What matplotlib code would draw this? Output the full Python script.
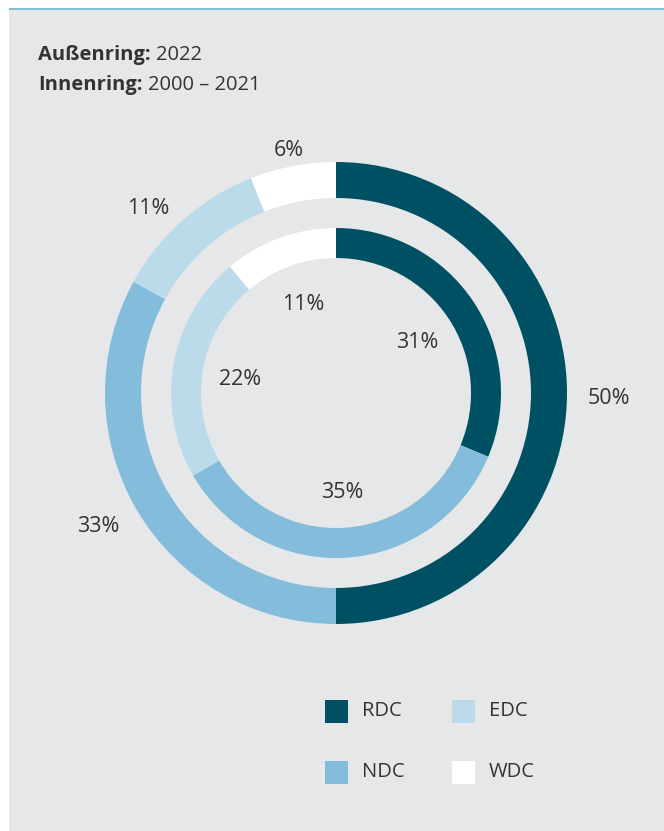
import numpy as np
import matplotlib

matplotlib.use("Agg")

import matplotlib.pyplot as plt  # noqa: E402
from matplotlib.patches import Rectangle  # noqa: E402

plt.rcParams["font.family"] = ["Open Sans", "DejaVu Sans"]

categories = ["RDC", "NDC", "EDC", "WDC"]
outer_values = [50, 33, 11, 6]  # 2022
inner_values = [31, 35, 22, 11]  # 2000 - 2021
colors = ["#005064", "#84bddb", "#bcdbea", "#ffffff"]
text_color = "#333333"

W, H = 664, 831
fig = plt.figure(figsize=(W / 100, H / 100), dpi=100)
fig.patch.set_facecolor("white")

# grey panel with thin blue line on top
fig.patches.append(
    Rectangle((9 / W, 0), 655 / W, 821 / H, transform=fig.transFigure,
              facecolor="#e6e7e9", edgecolor="none", zorder=-2)
)
fig.patches.append(
    Rectangle((9 / W, 821 / H), 655 / W, 2 / H, transform=fig.transFigure,
              facecolor="#84bddb", edgecolor="none", zorder=-2)
)

ax = fig.add_axes([0, 0, 1, 1])
ax.patch.set_alpha(0)
cx, cy = 336, H - 393

outer_wedges, _ = ax.pie(
    outer_values, colors=colors, radius=231, center=(cx, cy),
    startangle=90, counterclock=False,
    wedgeprops=dict(width=36, edgecolor="none", linewidth=0),
)
inner_wedges, _ = ax.pie(
    inner_values, colors=colors, radius=165, center=(cx, cy),
    startangle=90, counterclock=False,
    wedgeprops=dict(width=30, edgecolor="none", linewidth=0),
)

fs_pct = 15.5
fs_txt = 14.5

# outer labels, aligned by side
for w, v in zip(outer_wedges, outer_values):
    ang = np.deg2rad((w.theta1 + w.theta2) / 2)
    x = cx + 252 * np.cos(ang)
    y = cy + 252 * np.sin(ang) - 5
    c = np.cos(ang)
    ha = "left" if c > 0.3 else ("right" if c < -0.3 else "center")
    ax.text(x, y, f"{v}%", ha=ha, va="center", fontsize=fs_pct, color=text_color)

# inner labels, inside the hole
for w, v in zip(inner_wedges, inner_values):
    ang = np.deg2rad((w.theta1 + w.theta2) / 2)
    x = cx + 97 * np.cos(ang)
    y = cy + 97 * np.sin(ang) - 3
    ax.text(x, y, f"{v}%", ha="center", va="center", fontsize=fs_pct, color=text_color)

ax.set_xlim(0, W)
ax.set_ylim(0, H)
ax.set_aspect("auto")
ax.axis("off")

# header: bold key followed by normal value
renderer = fig.canvas.get_renderer()
for (key, val), ypix in zip([("Außenring:", "2022"), ("Innenring:", "2000 – 2021")], [55, 85]):
    t = ax.text(38, H - ypix, key, fontsize=fs_txt, fontweight="bold",
                color=text_color, va="center", ha="left")
    bb = t.get_window_extent(renderer=renderer)
    ax.text(bb.x1 + 5, H - ypix, val, fontsize=fs_txt, color=text_color, va="center", ha="left")

# legend, 2x2 grid
leg_x = [325, 452]
leg_y = [711, 772]
order = {"RDC": (0, 0), "EDC": (1, 0), "NDC": (0, 1), "WDC": (1, 1)}
for name, col in zip(categories, colors):
    ci, ri = order[name]
    x0 = leg_x[ci]
    y0 = H - leg_y[ri]
    ax.add_patch(Rectangle((x0, y0 - 11.5), 23, 23, facecolor=col, edgecolor="none"))
    ax.text(x0 + 37, y0, name, ha="left", va="center", fontsize=fs_txt, color=text_color)

fig.savefig("out.png", dpi=100)
